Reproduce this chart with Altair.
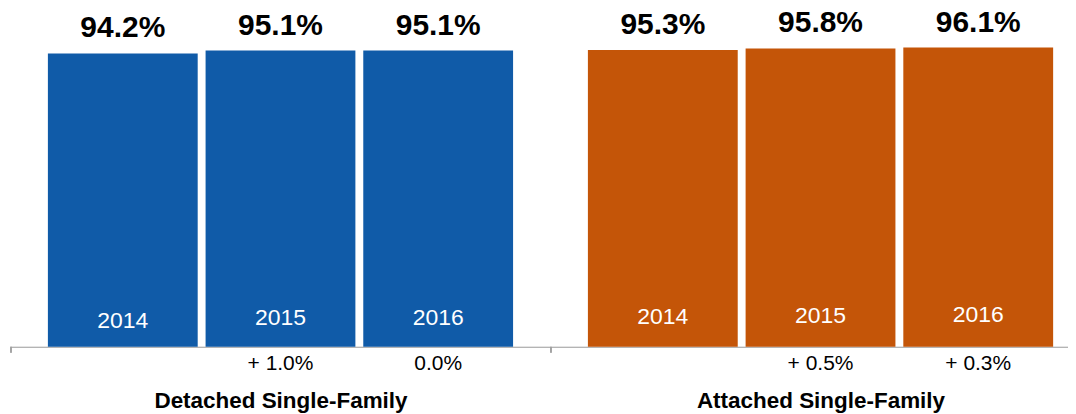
import altair as alt
import pandas as pd

years = ["2014", "2015", "2016"]
detached = [94.2, 95.1, 95.1]
attached = [95.3, 95.8, 96.1]
detached_change = ["", "+ 1.0%", "0.0%"]
attached_change = ["", "+ 0.5%", "+ 0.3%"]
titles = ["Detached Single-Family", "Attached Single-Family"]
colors = ["#105BA8", "#C45508"]

FONT = "Liberation Sans"
H = 312


def panel(values, changes, title, color, width, outer, align):
    df = pd.DataFrame({
        "year": years,
        "value": values,
        "change": changes,
        "label": [f"{v:.1f}%" for v in values],
    })
    base = alt.Chart(df).encode(
        x=alt.X(
            "year:N", sort=years,
            scale=alt.Scale(paddingInner=0.05, paddingOuter=outer, align=align),
            axis=alt.Axis(
                title=title, labels=False, ticks=False,
                domainColor="#999999", domainWidth=1,
                titleFont=FONT, titleFontSize=22.5, titleFontWeight="bold",
                titleColor="black", titlePadding=43,
                titleX=270, titleAlign="center",
            ),
        )
    )
    y = alt.Y("value:Q", scale=alt.Scale(domain=[0, 100]), axis=None)
    bars = base.mark_bar(color=color).encode(y=y)
    top = base.mark_text(
        font=FONT, fontSize=30, fontWeight="bold", color="black",
        baseline="alphabetic", dy=-16,
    ).encode(y=y, text="label:N")
    yr = base.mark_text(
        font=FONT, fontSize=23, color="white", baseline="middle", dy=268,
    ).encode(y=y, text="year:N")
    ch = base.mark_text(
        font=FONT, fontSize=21, color="black", baseline="middle", dy=17,
    ).encode(y=alt.Y(datum=0, axis=None), text="change:N")
    tick = alt.Chart(df).mark_rule(color="#999999").encode(
        x=alt.value(0), y=alt.value(H), y2=alt.value(H + 6)
    )
    return alt.layer(bars, top, yr, ch, tick).properties(width=width, height=H)


chart = alt.hconcat(
    panel(detached, detached_change, titles[0], colors[0], 540, 0.234, 0.5),
    panel(attached, attached_change, titles[1], colors[1], 518, 0.1642, 0.713),
    spacing=0,
).properties(
    padding={"left": 2, "top": -1, "right": 0, "bottom": 0}
).configure(font=FONT).configure_view(strokeWidth=0, stroke="transparent")

chart.save("out.html", embed_options={"renderer": "svg", "actions": False})
